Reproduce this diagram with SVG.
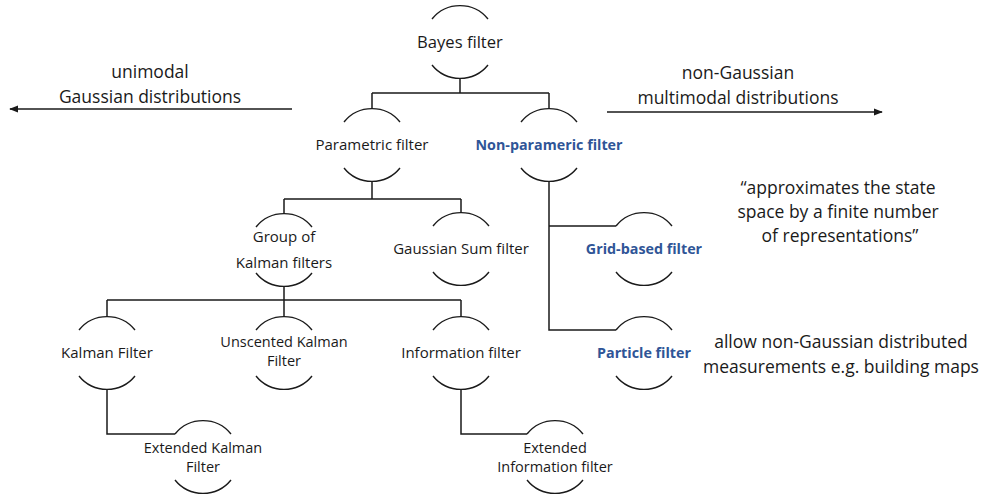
<svg xmlns="http://www.w3.org/2000/svg" xmlns:xlink="http://www.w3.org/1999/xlink" width="985" height="500" viewBox="0 0 985 500">
  <style>
    .node-arc { fill: none; stroke: #1a1a1a; stroke-width: 1.4; }
    .link { fill: none; stroke: #1a1a1a; stroke-width: 1.5; }
    .label { font-family: "Open Sans", "Noto Sans", sans-serif; font-size: 15px; fill: #1a1a1a; text-anchor: middle; }
    .root { font-size: 16.6px; }
    .tight { font-size: 14.5px; }
    .accent { font-weight: bold; font-size: 14.3px; fill: #2F5597; }
    .note { font-family: "Open Sans", "Noto Sans", sans-serif; font-size: 17.5px; fill: #1a1a1a; text-anchor: middle; }
  </style>
  <defs>
    <!-- upper and lower arc of a node outline, centred on the origin -->
    <path id="brackets" class="node-arc" d="M-28,-23 A36,36 0 0 1 28,-23 M-28,23 A36,36 0 0 0 28,23"/>
    <marker id="arrow" viewBox="0 0 10 10" refX="9" refY="5" markerWidth="9" markerHeight="9" markerUnits="userSpaceOnUse" orient="auto">
      <path d="M0,1 L10,5 L0,9 Z" fill="#1a1a1a"/>
    </marker>
  </defs>

  <rect width="985" height="500" fill="#ffffff"/>

  <!-- tree connectors -->
  <g id="connectors">
    <path class="link" d="M460,78 V93 M372,93 H549 M372,93 V109 M549,93 V109"/>
    <path class="link" d="M372,181 V199 M284,199 H461 M284,199 V213 M461,199 V213"/>
    <path class="link" d="M284,286 V300 M107,300 H461 M107,300 V317 M284,300 V317 M461,300 V317"/>
    <path class="link" d="M549,181 V330 H616 M549,226 H616"/>
    <path class="link" d="M107,389 V434 H175"/>
    <path class="link" d="M461,389 V434 H527"/>
    <!-- direction arrows -->
    <path class="link" d="M292,109 H10" marker-end="url(#arrow)"/>
    <path class="link" d="M607,112 H882" marker-end="url(#arrow)"/>
  </g>

  <g id="bayes">
    <use xlink:href="#brackets" x="460" y="42"/>
    <text class="label root" x="460" y="48">Bayes filter</text>
  </g>
  <g id="parametric">
    <use xlink:href="#brackets" x="372" y="145"/>
    <text class="label" x="372" y="150">Parametric filter</text>
  </g>
  <g id="nonparametric">
    <use xlink:href="#brackets" x="549" y="145"/>
    <text class="label accent" x="549" y="150">Non-parameric filter</text>
  </g>
  <g id="kalman-group">
    <use xlink:href="#brackets" x="284" y="250"/>
    <text class="label" x="284" y="242">Group of</text>
    <text class="label" x="284" y="268">Kalman filters</text>
  </g>
  <g id="gaussian-sum">
    <use xlink:href="#brackets" x="461" y="249"/>
    <text class="label" x="461" y="254">Gaussian Sum filter</text>
  </g>
  <g id="grid-based">
    <use xlink:href="#brackets" x="644" y="249"/>
    <text class="label accent" x="644" y="254">Grid-based filter</text>
  </g>
  <g id="particle">
    <use xlink:href="#brackets" x="644" y="353"/>
    <text class="label accent" x="644" y="358">Particle filter</text>
  </g>
  <g id="kalman">
    <use xlink:href="#brackets" x="107" y="353"/>
    <text class="label" x="107" y="358">Kalman Filter</text>
  </g>
  <g id="unscented">
    <use xlink:href="#brackets" x="284" y="353"/>
    <text class="label tight" x="284" y="347">Unscented Kalman</text>
    <text class="label tight" x="284" y="366">Filter</text>
  </g>
  <g id="information">
    <use xlink:href="#brackets" x="461" y="353"/>
    <text class="label" x="461" y="358">Information filter</text>
  </g>
  <g id="extended-kalman">
    <use xlink:href="#brackets" x="203" y="457"/>
    <text class="label tight" x="203" y="453">Extended Kalman</text>
    <text class="label tight" x="203" y="472">Filter</text>
  </g>
  <g id="extended-information">
    <use xlink:href="#brackets" x="555" y="457"/>
    <text class="label tight" x="555" y="453">Extended</text>
    <text class="label tight" x="555" y="472">Information filter</text>
  </g>

  <!-- side notes -->
  <g id="notes">
    <text class="note" x="150" y="78">unimodal</text>
    <text class="note" x="150" y="103">Gaussian distributions</text>
    <text class="note" x="738" y="79">non-Gaussian</text>
    <text class="note" x="738" y="104">multimodal distributions</text>
    <text class="note" x="838" y="194">“approximates the state</text>
    <text class="note" x="838" y="218">space by a finite number</text>
    <text class="note" x="840" y="242">of representations”</text>
    <text class="note" x="841" y="348">allow non-Gaussian distributed</text>
    <text class="note" x="841" y="373">measurements e.g. building maps</text>
  </g>
</svg>
